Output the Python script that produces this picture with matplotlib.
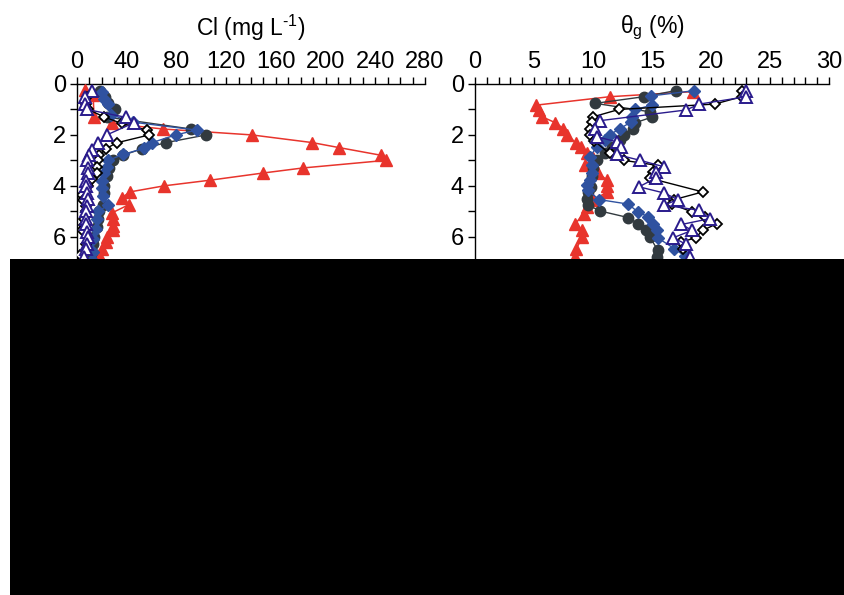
import matplotlib
matplotlib.use("Agg")
import matplotlib.pyplot as plt
from matplotlib.patches import Rectangle
from matplotlib.ticker import MultipleLocator

plt.rcParams['font.family'] = ['Liberation Sans', 'DejaVu Sans']
plt.rcParams['mathtext.fontset'] = 'custom'
plt.rcParams['mathtext.rm'] = 'Liberation Sans'

# ---- Cl (mg/L) vs depth (m) ----
cl_red_depth = [0.24, 0.43, 1.31, 1.55, 1.77, 2.0, 2.3, 2.5, 2.8, 3.0, 3.3, 3.5, 3.78, 4.0,
                4.24, 4.47, 4.74, 5.07, 5.3, 5.56, 5.75, 6.0, 6.2, 6.47, 6.73]
cl_red = [6.4, 13, 13.7, 27.9, 69.5, 140.5, 189, 211, 244.6, 248.6, 181.6, 149.4, 107, 70.3,
          42.6, 36, 41.8, 27.9, 28.8, 28.8, 28.8, 24.4, 23.1, 19.8, 17.4]

cl_dark_depth = [0.26, 0.5, 0.75, 1.0, 1.3, 1.77, 2.0, 2.3, 2.55, 2.8, 3.0, 3.3, 3.6, 4.0,
                 4.3, 4.76, 5.0, 5.3, 5.6, 6.0, 6.3, 6.6, 6.9]
cl_dark = [18.5, 22.5, 25, 30.6, 24, 92, 104, 72, 52, 37, 29, 26, 24, 22,
           22, 21, 18, 17, 16, 14, 13, 12, 11]

cl_blue_depth = [0.3, 0.6, 0.8, 1.2, 1.5, 1.81, 2.0, 2.31, 2.53, 2.77, 3.0, 3.27, 3.5, 3.8,
                 4.1, 4.4, 4.76, 5.0, 5.3, 5.7, 6.1, 6.6, 6.9]
cl_blue = [20, 22, 25, 27, 45, 96.3, 79.4, 60, 54, 36.8, 25.2, 24, 22, 20,
           20, 21, 25.2, 17.1, 16, 15, 13.1, 12.6, 12]

cl_open_depth = [0.5, 0.8, 1.0, 1.3, 1.55, 1.81, 2.0, 2.31, 2.55, 2.8, 3.0, 3.25, 3.5, 3.75,
                 4.0, 4.37, 4.55, 4.8, 5.0, 5.3, 5.55, 5.75, 6.0, 6.3, 6.73]
cl_open = [8, 7, 9, 22, 36, 56, 58.2, 32, 23, 18, 17, 16, 15.8, 12,
           9, 3.8, 5, 7, 7, 6, 6, 3.8, 8, 7, 2.4]

cl_tri_depth = [0.26, 0.5, 0.8, 1.0, 1.31, 1.52, 2.0, 2.33, 2.6, 2.8, 3.0, 3.3, 3.5, 3.8,
                4.0, 4.3, 4.5, 4.8, 5.0, 5.3, 5.5, 5.8, 6.0, 6.3, 6.5, 6.8]
cl_tri = [11.8, 6.7, 6.5, 8, 39.4, 46, 24, 16.6, 12, 10, 8, 8.5, 8.5, 7.5,
          7, 8, 9, 8, 7, 7, 7, 8, 9, 8, 7, 6]

# ---- gravimetric water content (%) vs depth (m) ----
wc_red_depth = [0.3, 0.5, 0.83, 1.02, 1.29, 1.52, 1.75, 2.0, 2.33, 2.47, 2.7, 2.9, 3.2, 3.5,
                3.78, 4.0, 4.24, 4.57, 4.83, 5.1, 5.49, 5.75, 6.0, 6.47, 6.8]
wc_red = [18.5, 11.4, 5.2, 5.4, 5.7, 6.8, 7.5, 7.8, 8.6, 9.0, 9.5, 10.0, 9.3, 10.45,
          11.2, 11.2, 11.2, 10.0, 9.5, 9.2, 8.5, 9.1, 9.1, 8.6, 8.5]

wc_dark_depth = [0.26, 0.5, 0.76, 1.09, 1.3, 1.52, 1.75, 2.0, 2.2, 2.47, 2.73, 3.0, 3.3, 3.6,
                 4.04, 4.24, 4.5, 4.76, 4.99, 5.25, 5.49, 5.75, 6.0, 6.54, 6.8]
wc_dark = [17.0, 14.3, 10.2, 14.8, 15.0, 13.6, 13.4, 12.6, 12.3, 11.6, 11.0, 10.3, 10.0, 9.9,
           9.8, 9.6, 9.5, 9.6, 10.6, 13.0, 13.8, 14.5, 14.8, 15.5, 15.4]

wc_blue_depth = [0.26, 0.47, 0.83, 1.0, 1.29, 1.5, 1.75, 2.0, 2.2, 2.47, 2.86, 3.2, 3.5, 3.78,
                 3.98, 4.18, 4.54, 4.72, 5.03, 5.22, 5.49, 5.75, 6.05, 6.47, 6.77]
wc_blue = [18.6, 14.9, 15.0, 13.6, 13.3, 13.2, 12.3, 11.4, 11.0, 10.3, 9.75, 9.9, 9.9, 9.75,
           9.5, 9.6, 10.5, 13.0, 13.8, 14.7, 15.1, 15.4, 15.5, 16.9, 17.8]

wc_open_depth = [0.26, 0.5, 0.79, 1.0, 1.29, 1.5, 1.75, 2.0, 2.24, 2.73, 3.0, 3.2, 3.45, 3.7,
                 4.24, 4.54, 4.72, 5.03, 5.22, 5.49, 5.75, 6.04, 6.21, 6.5]
wc_open = [22.6, 22.6, 20.3, 12.2, 10.0, 9.9, 9.75, 9.75, 10.1, 11.4, 12.6, 15.5, 15.1, 14.8,
           19.3, 16.9, 16.7, 18.4, 19.5, 20.5, 19.3, 18.7, 17.5, 17.6]

wc_tri_depth = [0.26, 0.5, 0.79, 1.02, 1.44, 1.75, 2.07, 2.27, 2.47, 2.77, 3.0, 3.25, 3.45, 3.7,
                4.04, 4.28, 4.54, 4.76, 4.96, 5.29, 5.52, 5.75, 6.04, 6.3, 6.8]
wc_tri = [23.0, 23.0, 19.0, 17.9, 10.6, 10.2, 10.3, 12.0, 12.4, 12.0, 14.0, 16.0, 15.3, 15.3,
          13.9, 16.0, 17.2, 16.0, 19.0, 19.9, 17.5, 18.4, 16.8, 17.9, 18.2]

red = '#e8342c'
dark = '#323a3f'
blue = '#2f52a0'
navy = '#2a1b8c'

fig = plt.figure(figsize=(8.45, 5.95), dpi=100)
W, H = 845.0, 595.0
top = 84
bot = 565
ax1 = fig.add_axes([77 / W, 1 - bot / H, (425 - 77) / W, (bot - top) / H])
ax2 = fig.add_axes([475 / W, 1 - bot / H, (829 - 475) / W, (bot - top) / H])
dmax = (bot - top) / 25.45


def draw(ax, sets):
    (dr, r), (dd, d), (db, b), (do, o), (dt, t) = sets
    ax.plot(r, dr, '-^', color=red, mfc=red, mec=red, ms=8.5, lw=1.1, zorder=3)
    ax.plot(d, dd, '-o', color=dark, mfc=dark, mec=dark, ms=7.5, lw=1.0, zorder=4)
    ax.plot(b, db, '-D', color=blue, mfc=blue, mec=blue, ms=6.5, lw=1.0, zorder=5)
    ax.plot(o, do, '-D', color='black', mfc='white', mec='black', ms=5.5, mew=1.3, lw=1.0, zorder=6)
    ax.plot(t, dt, '-^', color=navy, mfc='white', mec=navy, ms=8, mew=1.4, lw=1.0, zorder=7)


draw(ax1, [(cl_red_depth, cl_red), (cl_dark_depth, cl_dark), (cl_blue_depth, cl_blue),
           (cl_open_depth, cl_open), (cl_tri_depth, cl_tri)])
draw(ax2, [(wc_red_depth, wc_red), (wc_dark_depth, wc_dark), (wc_blue_depth, wc_blue),
           (wc_open_depth, wc_open), (wc_tri_depth, wc_tri)])

for ax, xmax, major, minor in [(ax1, 280, 40, 10), (ax2, 30, 5, 1)]:
    ax.set_xlim(0, xmax)
    ax.set_ylim(dmax, 0)
    ax.xaxis.set_major_locator(MultipleLocator(major))
    ax.xaxis.set_minor_locator(MultipleLocator(minor))
    ax.yaxis.set_major_locator(MultipleLocator(2))
    ax.yaxis.set_minor_locator(MultipleLocator(1))
    ax.xaxis.tick_top()
    ax.spines['right'].set_visible(False)
    ax.spines['bottom'].set_visible(False)
    ax.tick_params(axis='both', which='both', direction='out', length=5, width=1,
                   labelsize=17, pad=3)
    ax.tick_params(axis='x', which='both', top=True, bottom=False)
    for s in ax.spines.values():
        s.set_linewidth(1)

fig.text(251 / W, 1 - 28 / H, 'Cl (mg L$^{\\mathrm{\u20101}}$)', ha='center', va='center',
         fontsize=16.5)
fig.text(652 / W, 1 - 28 / H, 'θ$_{\\mathrm{g}}$ (%)', ha='center', va='center', fontsize=16.5)

# the lower part of the picture is covered by a black block
fig.add_artist(Rectangle((10 / W, 0), 1, 1 - 259 / H, transform=fig.transFigure,
                         facecolor='black', edgecolor='none', zorder=20))

plt.savefig('out.png', dpi=100)
